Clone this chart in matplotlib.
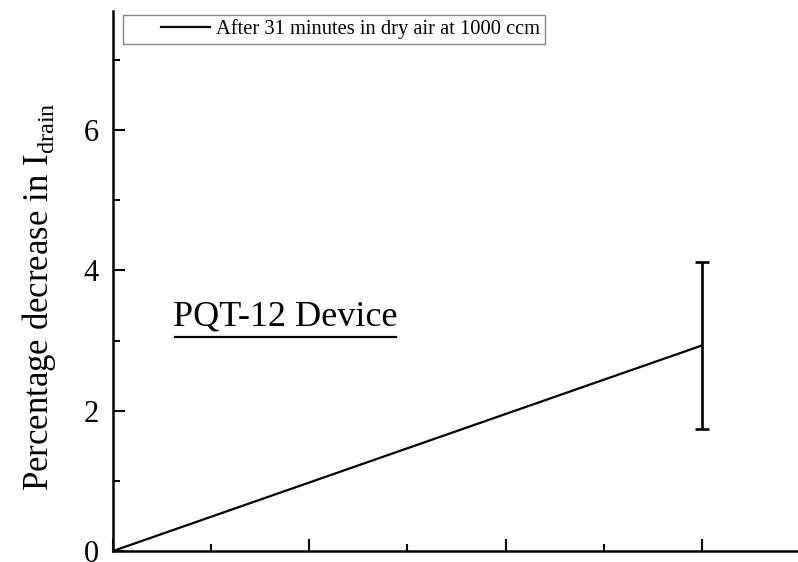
import numpy as np
import matplotlib
matplotlib.use("Agg")
import matplotlib.pyplot as plt
from matplotlib.lines import Line2D
from matplotlib.legend_handler import HandlerLine2D
from matplotlib.ticker import MultipleLocator, NullFormatter

plt.rcParams["font.family"] = ["Liberation Serif", "DejaVu Serif"]
plt.rcParams["mathtext.fontset"] = "custom"
plt.rcParams["mathtext.rm"] = "Liberation Serif"

# measured decrease in drain current
x_step = [0, 3]
decrease = [0.0, 2.93]
decrease_err = [0.0, 1.19]
legend_label = "After 31 minutes in dry air at 1000 ccm"

fig = plt.figure(figsize=(7.98, 5.62), dpi=100)
ax = fig.add_axes([113 / 798, 11 / 562, 685 / 798, 540 / 562])

ax.errorbar(x_step, decrease, yerr=decrease_err, color="black", lw=1.6,
            elinewidth=1.9, capsize=5, capthick=1.9)

ax.set_xlim(0, 3.49)
ax.set_ylim(0, 7.7)
ax.xaxis.set_major_locator(MultipleLocator(1))
ax.xaxis.set_minor_locator(MultipleLocator(0.5))
ax.xaxis.set_major_formatter(NullFormatter())
ax.yaxis.set_major_locator(MultipleLocator(2))
ax.yaxis.set_minor_locator(MultipleLocator(1))
ax.tick_params(which="both", direction="in", width=1.5, labelsize=22, pad=10)
ax.tick_params(which="major", length=8.5)
ax.tick_params(which="minor", length=5)
for side in ("top", "right"):
    ax.spines[side].set_visible(False)
for side in ("left", "bottom"):
    ax.spines[side].set_linewidth(1.8)

ax.set_ylabel(r"Percentage decrease in I$_{\mathrm{drain}}$", fontsize=25)
ax.yaxis.set_label_coords(-0.08, 0.47)

# legend line sits at the right end of a wide handle slot
handle = Line2D([], [], color="black", lw=1.6)
leg = ax.legend([handle], [legend_label], loc="upper left",
                bbox_to_anchor=(0.015, 0.993), fontsize=14.8,
                frameon=True, fancybox=False, edgecolor="#666666",
                handlelength=4.0, borderpad=0.22, handletextpad=0.3,
                borderaxespad=0.0,
                handler_map={Line2D: HandlerLine2D(xpad=1.6)})
leg.get_frame().set_linewidth(1.0)

label = ax.text(0.88, 3.33, "PQT-12 Device", fontsize=26, ha="center", va="center")

# underline the device label using its rendered extent
fig.canvas.draw()
bb = label.get_window_extent().transformed(ax.transData.inverted())
ax.plot([bb.x0 + 0.01, bb.x1 - 0.01], [bb.y0 - 0.04, bb.y0 - 0.04], color="black",
        lw=1.6, clip_on=False)

fig.savefig("out.png", dpi=100)
